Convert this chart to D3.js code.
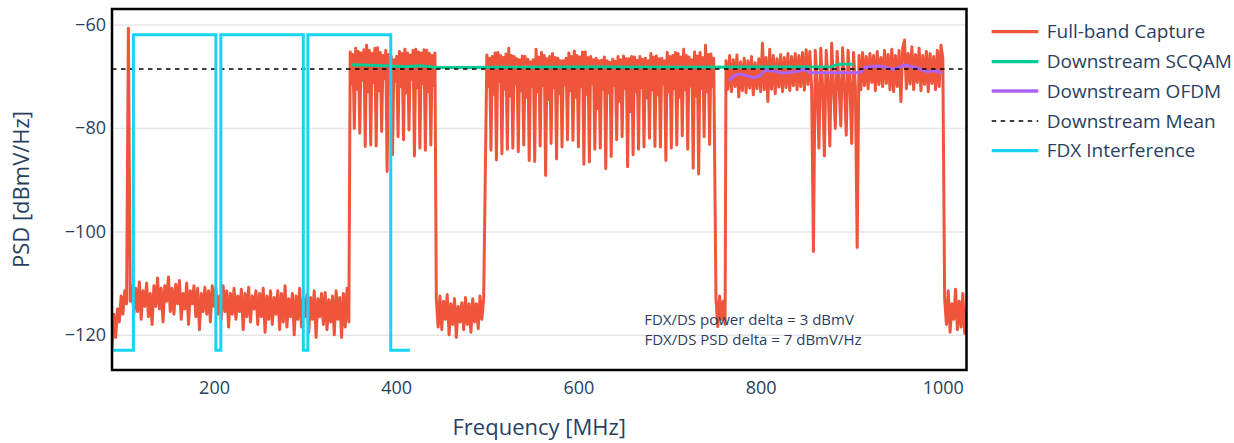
<!DOCTYPE html>
<html><head><meta charset="utf-8">
<script src="https://cdn.jsdelivr.net/npm/d3@7"></script>
<style>
html,body{margin:0;padding:0;background:#fff;}
svg{display:block;font-family:"Open Sans",sans-serif;}
</style></head><body>
<svg id="chart" width="1234" height="443"></svg>
<script>
// ---------------- DATA ----------------
const xTicks = [200, 400, 600, 800, 1000];
const yTicks = [-60, -80, -100, -120];
const xDomain = [88, 1026];
const yDomain = [-126.8, -57.0];
const seriesNames = ["Full-band Capture", "Downstream SCQAM", "Downstream OFDM", "Downstream Mean", "FDX Interference"];
const annotationLines = ["FDX/DS power delta = 3 dBmV", "FDX/DS PSD delta = 7 dBmV/Hz"];

// Full-band capture: noise floor below the downstream (2 MHz bins from 88 MHz)
const floorLowStartMHz = 88;
const binMHz = 2;
const floorLowPsd = [
 -122.5,-116.0,-120.5,-115.0,-117.5,-112.5,-116.0,-111.5,-114.0,-60.7,
 -113.5,-110.5,-116.0,-111.0,-115.5,-109.8,-117.0,-111.5,-114.5,-110.0,
 -116.5,-112.0,-118.0,-110.5,-114.5,-109.0,-115.0,-111.0,-117.5,-110.5,
 -113.5,-108.8,-115.5,-111.0,-116.0,-110.2,-114.0,-109.5,-117.0,-112.0,
 -115.0,-110.0,-118.0,-111.5,-114.0,-110.5,-116.5,-111.0,-119.0,-112.0,
 -115.5,-110.8,-116.0,-111.5,-117.5,-110.5,-114.5,-111.0,-116.0,-112.5,
 -117.0,-110.5,-115.5,-111.5,-118.5,-112.0,-116.0,-111.0,-117.0,-112.5,
 -115.5,-111.2,-119.0,-112.0,-116.5,-110.8,-117.5,-112.5,-115.0,-111.5,
 -118.0,-112.0,-116.5,-111.0,-119.5,-112.5,-117.0,-111.5,-118.0,-112.8,
 -116.0,-111.5,-119.0,-112.0,-117.5,-110.5,-118.5,-113.0,-116.5,-112.0,
 -120.0,-112.5,-117.0,-111.0,-118.5,-113.0,-116.5,-112.2,-119.5,-112.8,
 -117.0,-111.5,-120.5,-113.0,-116.5,-112.0,-118.0,-111.8,-119.0,-113.2,
 -117.5,-112.5,-120.0,-111.5,-117.0,-112.8,-120.5,-112.0,-118.5,-111.0,
 -117.5
];

// SCQAM channel blocks: 6 MHz channels, 3 in-channel readings each, and the dip at each channel edge
const chanMHz = 6;
const block1StartMHz = 348;
const block1Channels = [
 [-65.3,-71.5,-65.8],[-64.6,-72.5,-65.2],[-65.5,-70.8,-64.9],[-64.0,-73.0,-65.0],
 [-65.6,-71.2,-64.6],[-64.5,-72.8,-65.4],[-66.0,-70.5,-65.0],[-65.8,-73.5,-66.2],
 [-66.8,-71.0,-66.2],[-65.2,-72.0,-65.6],[-64.8,-73.2,-65.5],[-65.9,-70.6,-65.0],
 [-64.8,-72.2,-65.3],[-65.5,-71.4,-64.9],[-65.0,-73.0,-65.6],[-66.0,-71.8,-65.5]
];
const block1Dips = [-80.1,-81.0,-83.6,-83.3,-83.5,-80.7,-88.4,-85.2,-81.7,-82.3,-80.4,-85.4,-83.9,-84.3,-83.3];

const floorMidStartMHz = 444;
const floorMidPsd = [
 -113.0,-118.5,-112.5,-119.0,-113.5,-117.0,-112.2,-120.0,-114.0,-118.0,
 -113.0,-120.5,-114.5,-117.5,-113.8,-119.0,-112.8,-118.0,-114.0,-119.5,
 -113.0,-117.5,-114.0,-118.8,-112.5,-117.0,-113.0
];

const block2StartMHz = 498;
const block2Channels = [
 [-65.9,-72.0,-66.5],[-66.2,-73.5,-65.5],[-65.4,-71.0,-66.0],[-66.4,-72.5,-65.7],
 [-64.6,-73.8,-66.0],[-66.2,-71.5,-66.6],[-66.8,-72.8,-66.1],[-66.2,-74.0,-66.7],
 [-67.2,-72.0,-66.8],[-64.8,-73.0,-66.3],[-65.4,-71.8,-66.0],[-66.6,-74.5,-66.2],
 [-65.6,-72.2,-66.4],[-66.5,-73.4,-67.0],[-67.0,-71.6,-66.5],[-65.5,-72.8,-66.2],
 [-65.1,-74.0,-66.0],[-66.3,-72.0,-65.3],[-65.3,-73.5,-66.4],[-66.2,-71.4,-66.8],
 [-66.5,-76.3,-67.0],[-66.9,-72.5,-66.3],[-67.0,-73.2,-67.3],[-66.7,-71.8,-67.1],
 [-66.2,-74.8,-66.8],[-66.1,-72.4,-66.6],[-66.6,-76.8,-66.2],[-66.3,-73.0,-66.9],
 [-66.2,-72.2,-66.7],[-66.5,-74.2,-67.0],[-65.6,-72.6,-66.3],[-66.1,-73.6,-66.6],
 [-66.5,-71.5,-67.0],[-65.4,-73.0,-66.2],[-66.0,-72.4,-65.4],[-65.6,-74.0,-66.3],
 [-64.8,-72.6,-66.0],[-66.3,-71.9,-66.8],[-65.3,-73.8,-66.1],[-65.4,-72.3,-66.4],
 [-64.0,-73.0,-65.8],[-65.7,-72.0,-66.5]
];
const block2Dips = [
 -84.3,-86.2,-85.0,-84.1,-83.9,-84.6,-83.3,-86.3,-86.5,-83.5,
 -89.2,-83.0,-86.0,-83.7,-82.3,-82.4,-83.7,-87.0,-86.6,-84.1,
 -83.9,-87.9,-85.5,-82.3,-81.7,-87.5,-85.2,-84.1,-83.7,-82.0,
 -83.6,-83.7,-86.3,-83.9,-83.3,-81.5,-84.1,-87.8,-88.9,-81.7,
 -83.2
];

const notchStartMHz = 751;
const notchPsd = [-113.0,-118.4,-112.5,-117.0,-113.5,-118.0];

const ofdmStartMHz = 762;
const ofdmPsd = [
 -67.0,-72.5,-66.0,-73.0,-66.8,-72.0,-65.9,-74.0,-67.2,-72.8,
 -66.5,-73.2,-67.0,-72.3,-66.2,-73.6,-67.4,-72.4,-66.6,-73.0,
 -63.6,-72.6,-66.4,-74.9,-64.8,-72.5,-66.0,-73.4,-66.6,-72.1,
 -65.8,-73.0,-66.4,-72.2,-65.6,-72.8,-66.2,-71.8,-65.6,-72.6,
 -66.0,-72.0,-65.4,-72.7,-64.9,-71.6,-65.2,-72.4,-103.9,-65.0,
 -71.5,-83.9,-64.6,-71.8,-85.4,-65.0,-71.4,-83.5,-63.6,-71.8,
 -80.1,-65.2,-71.2,-79.6,-64.5,-71.6,-81.4,-65.0,-71.3,-83.0,
 -65.4,-72.0,-103.1,-66.0,-72.6,-65.4,-71.8,-66.2,-72.4,-65.6,
 -71.2,-66.0,-72.8,-65.2,-71.6,-66.4,-72.0,-65.0,-71.4,-65.8,
 -72.6,-64.8,-73.0,-66.0,-72.0,-65.0,-74.9,-64.5,-63.0,-72.4,
 -65.6,-71.5,-64.3,-72.6,-65.8,-71.2,-64.6,-72.8,-66.0,-71.6,
 -65.2,-73.0,-65.6,-71.4,-66.2,-72.6,-65.0,-72.0,-64.0,-66.5
];

const floorHighStartMHz = 1002;
const floorHighPsd = [-113.0,-118.0,-111.5,-119.5,-114.0,-117.0,-111.2,-119.0,-113.5,-118.5,-112.0,-119.7,-115.0];

// Downstream SCQAM average PSD
const scqamMHz = [351, 372, 393, 410, 426, 444, 520, 620, 720, 800, 878, 885, 902];
const scqamPsd = [-67.8, -67.9, -68.0, -68.15, -67.95, -68.3, -68.25, -68.2, -68.25, -68.2, -68.15, -67.7, -67.7];

// Downstream OFDM average PSD
const ofdmAvgMHz = [765.6, 771.9, 777.4, 792.0, 799.3, 804.8, 817.6, 824.9, 839.6, 848.7, 854.2, 909.1, 914.6, 931.0, 945.6, 958.5, 973.1, 982.3, 993.2, 998.7];
const ofdmAvgPsd = [-70.85, -69.76, -69.57, -70.27, -69.95, -68.79, -69.11, -69.44, -69.11, -68.66, -69.31, -69.31, -68.28, -68.02, -68.66, -67.83, -68.47, -69.11, -68.92, -69.44];

// Downstream mean
const meanMHz = [88, 1026];
const meanPsd = [-68.6, -68.6];

// FDX interference
const fdxMHz = [88, 111.5, 111.5, 202, 202, 207.5, 207.5, 298, 298, 303, 303, 394, 394, 415];
const fdxPsd = [-123, -123, -62, -62, -123, -123, -62, -62, -123, -123, -62, -62, -123, -123];

// ---------------- BUILD ----------------
const capture = [];
floorLowPsd.forEach((v, i) => capture.push([floorLowStartMHz + i * binMHz, v]));
function addBlock(start, channels, dips) {
  channels.forEach((ch, k) => {
    const base = start + k * chanMHz;
    ch.forEach((v, j) => capture.push([base + (j + 1) * chanMHz / (ch.length + 1), v]));
    if (k < dips.length) capture.push([base + chanMHz, dips[k]]);
  });
}
addBlock(block1StartMHz, block1Channels, block1Dips);
floorMidPsd.forEach((v, i) => capture.push([floorMidStartMHz + i * binMHz, v]));
addBlock(block2StartMHz, block2Channels, block2Dips);
notchPsd.forEach((v, i) => capture.push([notchStartMHz + i * binMHz, v]));
ofdmPsd.forEach((v, i) => capture.push([ofdmStartMHz + i * binMHz, v]));
floorHighPsd.forEach((v, i) => capture.push([floorHighStartMHz + i * binMHz, v]));

const zip = (a, b) => a.map((d, i) => [d, b[i]]);

// ---------------- STYLE / LAYOUT ----------------
const textColor = "#2a3f5f";
const colors = ["#EF553B", "#00CC96", "#AB63FA", "#000000", "#19D3F3"];
const plot = {left: 112, top: 9, right: 966.5, bottom: 370};

const svg = d3.select("#chart");
const x = d3.scaleLinear().domain(xDomain).range([plot.left, plot.right]);
const y = d3.scaleLinear().domain(yDomain).range([plot.bottom, plot.top]);

svg.append("rect").attr("width", 1234).attr("height", 443).attr("fill", "#fff");

svg.append("defs").append("clipPath").attr("id", "clip")
  .append("rect").attr("x", plot.left).attr("y", plot.top)
  .attr("width", plot.right - plot.left).attr("height", plot.bottom - plot.top);

// grid + y ticks
const yAxis = d3.axisLeft(y).tickValues(yTicks).tickSize(-(plot.right - plot.left))
  .tickFormat(d => d3.format("d")(d).replace("-", "\u2212")).tickPadding(6);
const gy = svg.append("g").attr("transform", `translate(${plot.left},0)`).call(yAxis);
gy.select(".domain").remove();
gy.selectAll(".tick line").attr("stroke", "#e6e6e6").attr("stroke-width", 1.5);
gy.selectAll(".tick text").attr("fill", textColor).attr("font-size", 18)
  .attr("font-family", "Open Sans").attr("x", -6);

const xAxis = d3.axisBottom(x).tickValues(xTicks).tickSize(0).tickFormat(d3.format("d")).tickPadding(11);
const gx = svg.append("g").attr("transform", `translate(0,${plot.bottom})`).call(xAxis);
gx.select(".domain").remove();
gx.selectAll(".tick text").attr("fill", textColor).attr("font-size", 18).attr("font-family", "Open Sans");

// traces
const line = d3.line().x(d => x(d[0])).y(d => y(d[1]));
const g = svg.append("g").attr("clip-path", "url(#clip)");
g.append("path").datum(capture).attr("d", line).attr("fill", "none")
  .attr("stroke", colors[0]).attr("stroke-width", 3).attr("stroke-linejoin", "round");
g.append("path").datum(zip(scqamMHz, scqamPsd)).attr("d", line).attr("fill", "none")
  .attr("stroke", colors[1]).attr("stroke-width", 3).attr("stroke-linejoin", "round");
g.append("path").datum(zip(ofdmAvgMHz, ofdmAvgPsd)).attr("d", line).attr("fill", "none")
  .attr("stroke", colors[2]).attr("stroke-width", 3).attr("stroke-linejoin", "round");
g.append("path").datum(zip(meanMHz, meanPsd)).attr("d", line).attr("fill", "none")
  .attr("stroke", colors[3]).attr("stroke-width", 1.5).attr("stroke-dasharray", "4.5,4.5");
g.append("path").datum(zip(fdxMHz, fdxPsd)).attr("d", line).attr("fill", "none")
  .attr("stroke", colors[4]).attr("stroke-width", 3).attr("stroke-linejoin", "miter");

// border
svg.append("rect").attr("x", plot.left).attr("y", plot.top)
  .attr("width", plot.right - plot.left).attr("height", plot.bottom - plot.top)
  .attr("fill", "none").attr("stroke", "#000").attr("stroke-width", 2.5);

// annotation (two lines)
const ann = svg.append("g").attr("fill", textColor).attr("font-size", 15).attr("text-anchor", "middle");
ann.append("text").attr("x", 749).attr("y", 324.5).text(annotationLines[0]);
ann.append("text").attr("x", 753).attr("y", 345).text(annotationLines[1]);

// axis titles
svg.append("text").attr("x", (plot.left + plot.right) / 2).attr("y", 435)
  .attr("text-anchor", "middle").attr("fill", textColor).attr("font-size", 22).text("Frequency [MHz]");
svg.append("text").attr("transform", `translate(29,${(plot.top + plot.bottom) / 2}) rotate(-90)`)
  .attr("text-anchor", "middle").attr("fill", textColor).attr("font-size", 22).text("PSD [dBmV/Hz]");

// legend
const legendY = [31.7, 61.7, 91, 121, 150.7];
const lg = svg.append("g");
seriesNames.forEach((name, i) => {
  const row = lg.append("g").attr("transform", `translate(0,${legendY[i]})`);
  const l = row.append("line").attr("x1", 991.7).attr("x2", 1038.3).attr("y1", 0).attr("y2", 0)
    .attr("stroke", colors[i]).attr("stroke-width", i === 3 ? 1.5 : 3.3);
  if (i === 3) l.attr("stroke-dasharray", "4.5,4.5");
  row.append("text").attr("x", 1046.7).attr("y", 0).attr("dy", "0.35em")
    .attr("fill", textColor).attr("font-size", 19).text(name);
});
</script>
</body></html>
